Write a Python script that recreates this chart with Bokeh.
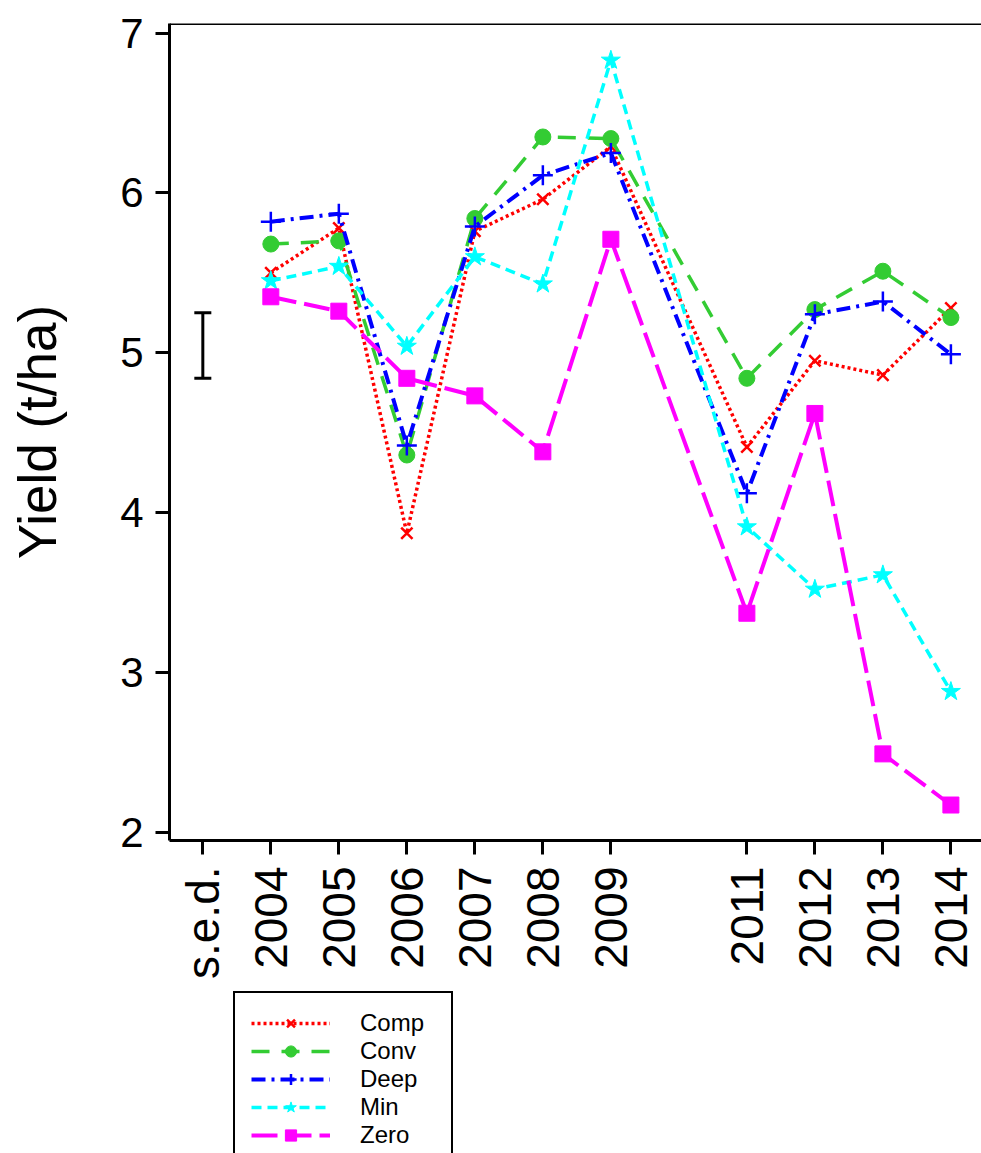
from math import pi
from bokeh.plotting import figure
from bokeh.layouts import column
from bokeh.models import FixedTicker, Legend, LegendItem, Span, Whisker, ColumnDataSource, Range1d, TeeHead
from bokeh.embed import file_html
from bokeh.resources import INLINE

years = [2004, 2005, 2006, 2007, 2008, 2009, 2011, 2012, 2013, 2014]
comp = [5.50, 5.78, 3.87, 5.76, 5.96, 6.29, 4.41, 4.95, 4.86, 5.28]
conv = [5.68, 5.70, 4.36, 5.84, 6.35, 6.34, 4.84, 5.27, 5.51, 5.22]
deep = [5.82, 5.87, 4.42, 5.79, 6.11, 6.25, 4.12, 5.24, 5.32, 4.99]
mini = [5.45, 5.54, 5.04, 5.60, 5.43, 6.83, 3.91, 3.52, 3.61, 2.88]
zero = [5.35, 5.26, 4.84, 4.73, 4.38, 5.71, 3.37, 4.62, 2.49, 2.17]
sed_x = [2003]
sed_lower = [4.84]
sed_upper = [5.25]
x_ticks = [2003, 2004, 2005, 2006, 2007, 2008, 2009, 2011, 2012, 2013, 2014]
x_tick_labels = ["s.e.d.", "2004", "2005", "2006", "2007", "2008", "2009", "2011", "2012", "2013", "2014"]
y_ticks = [2, 3, 4, 5, 6, 7]
series_names = ["Comp", "Conv", "Deep", "Min", "Zero"]

FONT = "Liberation Sans"

p = figure(width=981, height=990, output_backend="svg", toolbar_location=None,
           x_range=Range1d(2002.51, 2014.45), y_range=Range1d(1.948, 7.06),
           min_border_left=169, min_border_right=0, min_border_top=23, min_border_bottom=150)
p.outline_line_color = None
p.xgrid.visible = False
p.ygrid.visible = False
p.background_fill_color = "white"
p.border_fill_color = "white"

for ax in (p.xaxis[0], p.yaxis[0]):
    ax.axis_line_width = 3
    ax.axis_line_color = "black"
    ax.major_tick_line_width = 3
    ax.major_tick_line_color = "black"
    ax.major_tick_in = 0
    ax.major_tick_out = 14
    ax.minor_tick_line_color = None
    ax.major_label_text_font = FONT
    ax.major_label_text_color = "black"

p.yaxis.ticker = FixedTicker(ticks=y_ticks)
p.yaxis.major_label_text_font_size = "42px"
p.yaxis.major_label_standoff = 12
p.yaxis.axis_label = "Yield (t/ha)"
p.yaxis.axis_label_text_font = FONT
p.yaxis.axis_label_text_font_size = "53px"
p.yaxis.axis_label_text_font_style = "normal"
p.yaxis.axis_label_text_color = "black"
p.yaxis.axis_label_standoff = 50

p.xaxis.ticker = FixedTicker(ticks=x_ticks)
p.xaxis.major_label_overrides = {t: l for t, l in zip(x_ticks, x_tick_labels)}
p.xaxis.major_label_orientation = pi / 2
p.xaxis.major_label_text_font_size = "46px"
p.xaxis.major_label_standoff = 12

p.add_layout(Span(location=7.06, dimension="width", line_color="black", line_width=3))

sed_src = ColumnDataSource(dict(x=sed_x, lower=sed_lower, upper=sed_upper))
p.add_layout(Whisker(source=sed_src, base="x", lower="lower", upper="upper",
                     line_color="black", line_width=3,
                     upper_head=TeeHead(size=17, line_color="black", line_width=3),
                     lower_head=TeeHead(size=17, line_color="black", line_width=3)))

styles = [
    (comp, "#FF0000", "3 3", 3.5, "x", 16),
    (conv, "#33CC33", "18 12", 3.5, "circle", 16),
    (deep, "#0000FF", "14 6 3 6", 4, "cross", 20),
    (mini, "#00FFFF", "10 6", 3.5, "star", 20),
    (zero, "#FF00FF", "26 8", 4, "square", 16),
]

# legend panel below the chart
p2 = figure(width=981, height=163, output_backend="svg", toolbar_location=None,
            x_range=Range1d(0, 1), y_range=Range1d(0, 1),
            x_axis_location=None, y_axis_location=None,
            min_border_left=0, min_border_right=0, min_border_top=0, min_border_bottom=0)
p2.outline_line_color = None
p2.xgrid.visible = False
p2.ygrid.visible = False
p2.background_fill_color = "white"
p2.border_fill_color = "white"

items = []
for name, (vals, col, dash, lw, mk, ms) in zip(series_names, styles):
    for fig in (p, p2):
        src = ColumnDataSource(dict(x=years, y=vals))
        lr = fig.line("x", "y", source=src, line_color=col, line_width=lw, line_dash=dash)
        sr = fig.scatter("x", "y", source=src, marker=mk, size=ms, line_color=col,
                         fill_color=col, line_width=2.5 if mk in ("x", "cross") else 1)
    items.append(LegendItem(label=name, renderers=[lr, sr]))

legend = Legend(items=items, location=(64, -14), margin=0, padding=16,
                glyph_width=79, glyph_height=28, label_height=28, label_width=75,
                spacing=0, label_standoff=30, label_text_font=FONT,
                label_text_font_size="24px", label_text_color="black",
                border_line_color="black", border_line_width=2, border_line_alpha=1.0,
                background_fill_color="white", background_fill_alpha=1.0)
p2.add_layout(legend, "center")

layout = column(p, p2, spacing=0)
open("out.html", "w").write(file_html(layout, INLINE))
